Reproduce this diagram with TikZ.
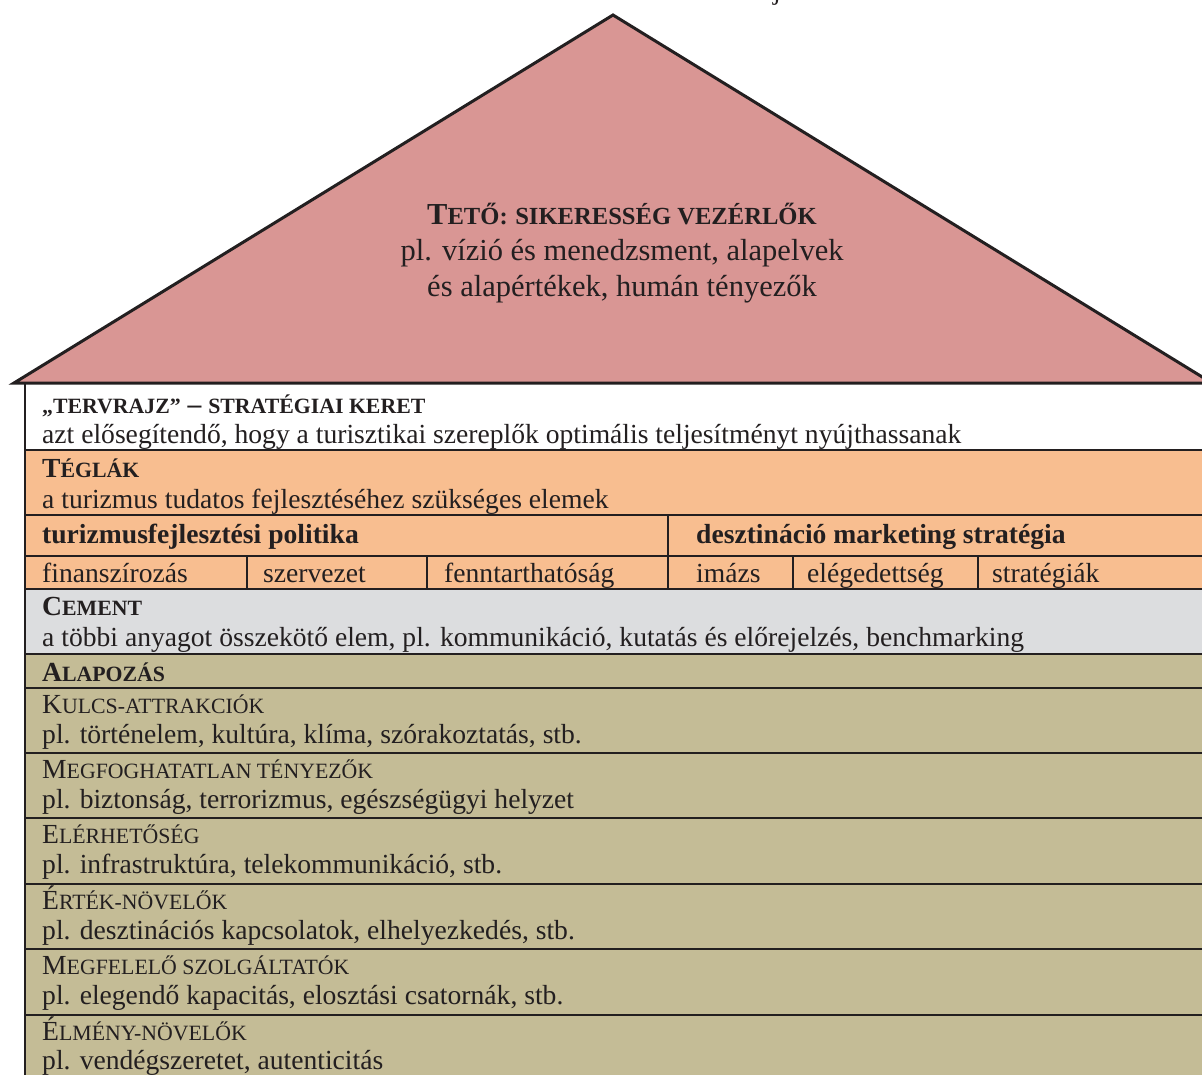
\documentclass[tikz,border=0pt]{standalone}
\usepackage{fontspec}
\setmainfont{Liberation Serif}
\definecolor{roof}{HTML}{D99694}
\definecolor{brick}{HTML}{F8BE90}
\definecolor{cement}{HTML}{DCDDDF}
\definecolor{found}{HTML}{C4BC96}
\definecolor{ink}{HTML}{231F20}
\newcommand\SCs[1]{{\fontsize{21.8}{23}\selectfont #1}}
\newcommand\RSCs[1]{{\fontsize{24.6}{26}\selectfont #1}}
\begin{document}
\begin{tikzpicture}[x=1pt,y=-1pt,
  txt/.style={anchor=base west,inner sep=0pt,text=ink,font=\fontsize{27.6}{30}\selectfont},
  rooftxt/.style={anchor=base,inner sep=0pt,text=ink,font=\fontsize{30.5}{33}\selectfont},
  rowline/.style={line width=2.6pt,draw=ink},
  colline/.style={line width=2.2pt,draw=ink}]
\useasboundingbox (0,0) rectangle (1202,1075);
\fill[white] (0,0) rectangle (1202,1075);
% bands
\fill[white] (25,384) rectangle (1215,450);
\fill[brick] (25,450) rectangle (1215,589);
\fill[cement] (25,589) rectangle (1215,654);
\fill[found] (25,654) rectangle (1215,1085);
% roof
\coordinate (rl) at (14,383);
\coordinate (ra) at (613,15);
\coordinate (rr) at (1212,383);
\filldraw[fill=roof,draw=ink,line width=3pt,line join=miter] (rl) -- (ra) -- (rr) -- cycle;
% horizontal lines
\foreach \y in {450,515,556,589,654,688,753,818,884,949,1015}
  \draw[rowline] (25,\y) -- (1215,\y);
% left wall
\draw[colline] (25,384) -- (25,1085);
% column dividers
\draw[colline] (668,515) -- (668,589);
\foreach \x in {247,427,793,978}
  \draw[colline] (\x,556) -- (\x,589);
% roof text
\node[rooftxt] (t1) at (622,225) {\textbf{T\RSCs{ETŐ:} \RSCs{SIKERESSÉG VEZÉRLŐK}}};
\node[rooftxt] (t2) at (622,261) {pl. vízió és menedzsment, alapelvek};
\node[rooftxt] (t3) at (622,297) {és alapértékek, humán tényezők};
% fragment at top
\node[txt] (frag) at (773,0) {j};
% blueprint
\node[txt] (b1) at (42,413) {\textbf{\SCs{„TERVRAJZ”} – \SCs{STRATÉGIAI KERET}}};
\node[txt] (b2) at (42,443) {azt elősegítendő, hogy a turisztikai szereplők optimális teljesítményt nyújthassanak};
% bricks
\node[txt] (c1) at (42,477) {\textbf{T\SCs{ÉGLÁK}}};
\node[txt] (c2) at (42,508) {a turizmus tudatos fejlesztéséhez szükséges elemek};
\node[txt] (c3) at (42,543) {\textbf{turizmusfejlesztési politika}};
\node[txt] (c4) at (696,543) {\textbf{desztináció marketing stratégia}};
\node[txt] (d1) at (42,582) {finanszírozás};
\node[txt] (d2) at (263,582) {szervezet};
\node[txt] (d3) at (444,582) {fenntarthatóság};
\node[txt] (d4) at (696,582) {imázs};
\node[txt] (d5) at (807,582) {elégedettség};
\node[txt] (d6) at (992,582) {stratégiák};
% cement
\node[txt] (e1) at (42,615) {\textbf{C\SCs{EMENT}}};
\node[txt] (e2) at (42,646) {a többi anyagot összekötő elem, pl. kommunikáció, kutatás és előrejelzés, benchmarking};
% foundation
\node[txt] (f0) at (42,681) {\textbf{A\SCs{LAPOZÁS}}};
\node[txt] (f1) at (42,713) {K\SCs{ULCS-ATTRAKCIÓK}};
\node[txt] (f1b) at (42,743) {pl. történelem, kultúra, klíma, szórakoztatás, stb.};
\node[txt] (f2) at (42,778) {M\SCs{EGFOGHATATLAN TÉNYEZŐK}};
\node[txt] (f2b) at (42,808) {pl. biztonság, terrorizmus, egészségügyi helyzet};
\node[txt] (f3) at (42,843) {E\SCs{LÉRHETŐSÉG}};
\node[txt] (f3b) at (42,873) {pl. infrastruktúra, telekommunikáció, stb.};
\node[txt] (f4) at (42,909) {É\SCs{RTÉK-NÖVELŐK}};
\node[txt] (f4b) at (42,939) {pl. desztinációs kapcsolatok, elhelyezkedés, stb.};
\node[txt] (f5) at (42,974) {M\SCs{EGFELELŐ SZOLGÁLTATÓK}};
\node[txt] (f5b) at (42,1004) {pl. elegendő kapacitás, elosztási csatornák, stb.};
\node[txt] (f6) at (42,1040) {É\SCs{LMÉNY-NÖVELŐK}};
\node[txt] (f6b) at (42,1069) {pl. vendégszeretet, autenticitás};
\end{tikzpicture}
\end{document}
